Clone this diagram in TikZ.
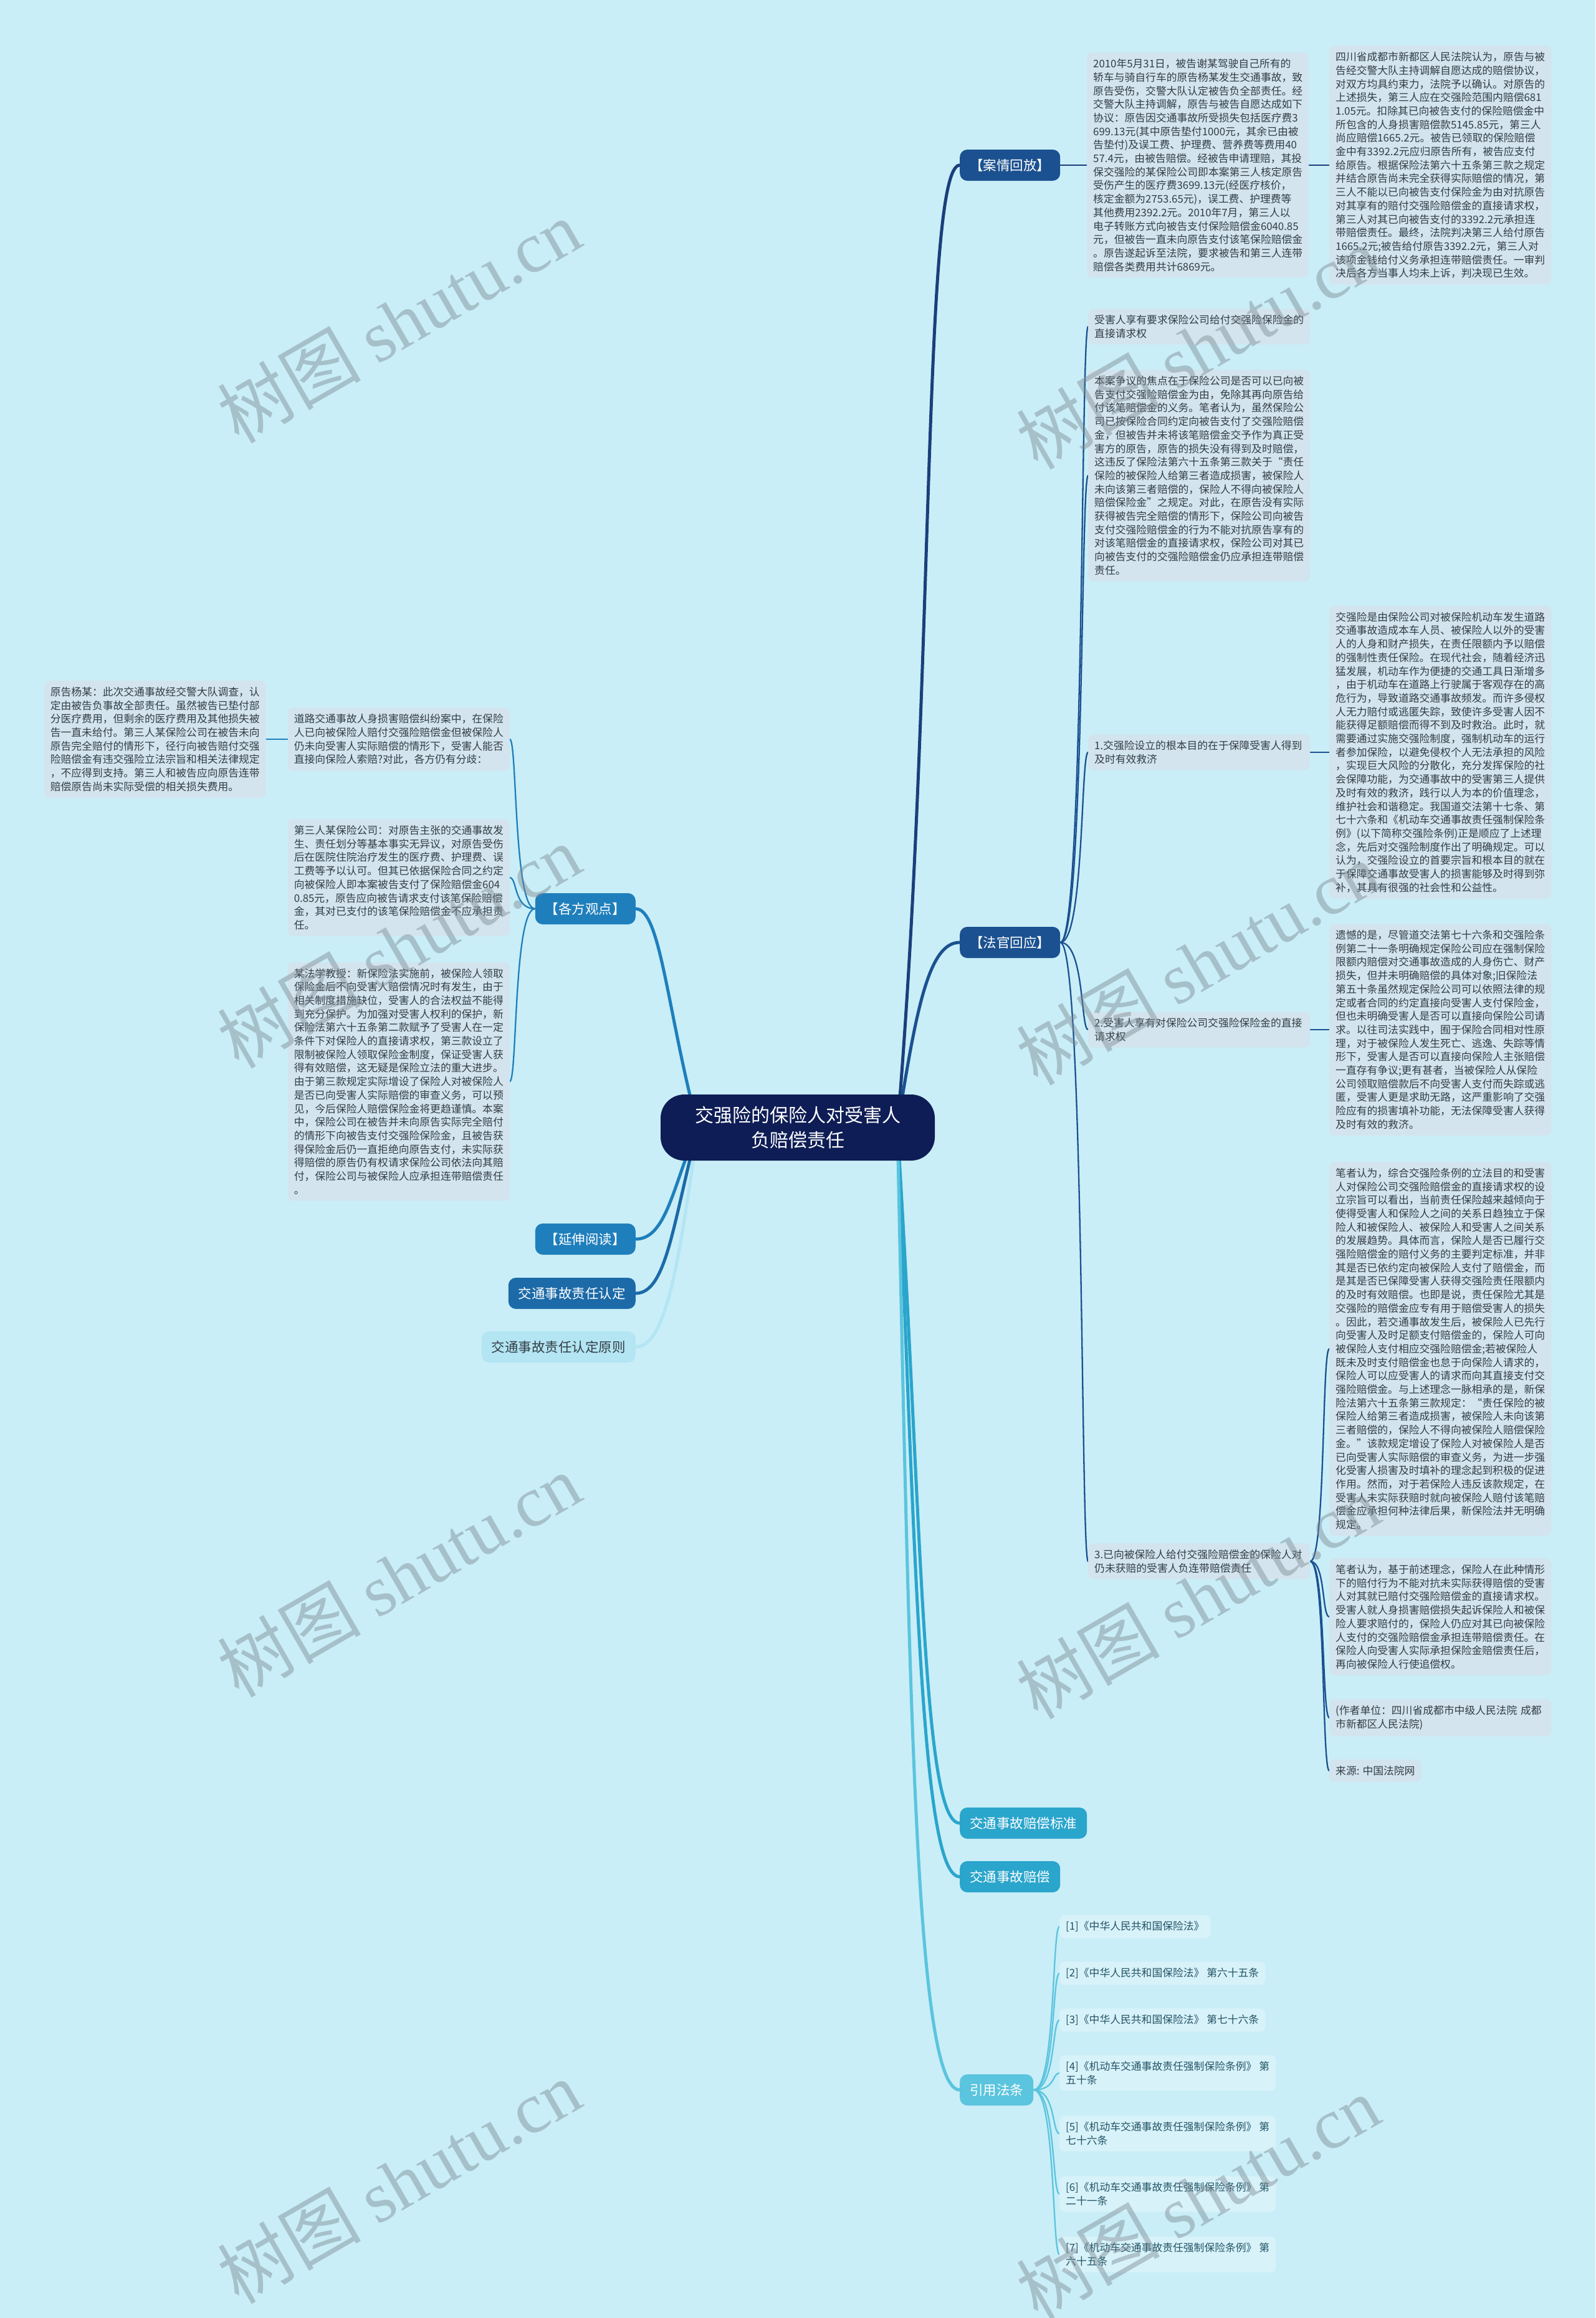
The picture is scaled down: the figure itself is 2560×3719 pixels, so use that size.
\documentclass[tikz,border=0pt]{standalone}
\usepackage{fontspec}
\setmainfont{Noto Sans CJK SC}
\newfontfamily\wmlat{Liberation Serif}
\usetikzlibrary{calc}
\pgfdeclarelayer{back}
\pgfdeclarelayer{edges}
\pgfsetlayers{back,edges,main}

\definecolor{cBg}{HTML}{C9EEF7}
\definecolor{cRoot}{HTML}{0E1D55}
\definecolor{cDark}{HTML}{1B5190}
\definecolor{cMid}{HTML}{1F7FBC}
\definecolor{cMid2}{HTML}{1C6AA8}
\definecolor{cPale}{HTML}{B3E5F3}
\definecolor{cTeal}{HTML}{2AA5CC}
\definecolor{cLight}{HTML}{5BC4DE}
\definecolor{cBox}{HTML}{D3E4EE}
\definecolor{cLaw}{HTML}{D8F2F9}
\definecolor{cTxt}{HTML}{333D45}
\definecolor{cLawTxt}{HTML}{235466}
\definecolor{cLnA}{HTML}{1B3F7C}
\definecolor{cWm}{HTML}{7D8A93}

\tikzset{
  rootnode/.style={rectangle, rounded corners=38pt, fill=cRoot, text=white, align=center,
    font=\fontsize{30}{40}\selectfont, minimum width=440pt, minimum height=106pt},
  lone/.style={rectangle, rounded corners=12pt, minimum height=50pt, inner xsep=16pt,
    font=\fontsize{21.5}{26}\selectfont, text=white},
  para/.style={rectangle, rounded corners=8pt, fill=cBox, text=cTxt, inner xsep=10pt,
    inner ysep=10pt, align=left, text width=336pt, font=\fontsize{16.8}{21.7}\selectfont},
  tagbox/.style={rectangle, rounded corners=8pt, fill=cBox, text=cTxt, inner xsep=10pt,
    inner ysep=10pt, align=left, font=\fontsize{16.8}{21.7}\selectfont},
  lawbox/.style={tagbox, fill=cLaw, text=cLawTxt},
  brline/.style={line width=5pt, line cap=round},
  subline/.style={line width=2.3pt, line cap=round},
  wmark/.style={rotate=30, text=cWm, opacity=0.45, font=\fontsize{115}{115}\selectfont}
}
\newcommand\mmR[3][]{\draw[subline,#1] let \p1=(#2.east), \p2=(#3.west) in (\p1) .. controls (\x2-6pt,\y1) and (\x2-12pt,\y2) .. (\p2);}
\newcommand\mmL[3][]{\draw[subline,#1] let \p1=(#2.west), \p2=(#3.east) in (\p1) .. controls (\x2+6pt,\y1) and (\x2+12pt,\y2) .. (\p2);}

\begin{document}
\begin{tikzpicture}[x=1pt,y=-1pt]
\useasboundingbox (0,0) rectangle (2560,3719);
\begin{pgfonlayer}{back}
\fill[cBg] (0,0) rectangle (2560,3719);
\end{pgfonlayer}

% root
\node[rootnode] (root) at (1280,1809) {交强险的保险人对受害人\\负赔偿责任};
\coordinate (rs) at (1440,1809);
\coordinate (ls) at (1120,1809);

% right level 1
\node[lone, fill=cDark, anchor=west] (anq) at (1540,265) {【案情回放】};
\node[lone, fill=cDark, anchor=west] (fg) at (1540,1512) {【法官回应】};
\node[lone, fill=cTeal, anchor=west] (bzbz) at (1540,2925) {交通事故赔偿标准};
\node[lone, fill=cTeal, anchor=west] (bz) at (1540,3011) {交通事故赔偿};
\node[lone, fill=cLight, anchor=west] (yy) at (1540,3353) {引用法条};

% left level 1
\node[lone, fill=cMid, anchor=east] (gf) at (1020,1458) {【各方观点】};
\node[lone, fill=cMid, anchor=east] (yc) at (1020,1988) {【延伸阅读】};
\node[lone, fill=cMid2, anchor=east] (rd) at (1020,2075) {交通事故责任认定};
\node[lone, fill=cPale, text=cTxt, anchor=east] (yz) at (1020,2161) {交通事故责任认定原则};

% case
\node[para, anchor=west] (caseA) at (1744,265) {2010年5月31日，被告谢某驾驶自己所有的\\
轿车与骑自行车的原告杨某发生交通事故，致\\
原告受伤，交警大队认定被告负全部责任。经\\
交警大队主持调解，原告与被告自愿达成如下\\
协议：原告因交通事故所受损失包括医疗费3\\
699.13元(其中原告垫付1000元，其余已由被\\
告垫付)及误工费、护理费、营养费等费用40\\
57.4元，由被告赔偿。经被告申请理赔，其投\\
保交强险的某保险公司即本案第三人核定原告\\
受伤产生的医疗费3699.13元(经医疗核价，\\
核定金额为2753.65元)，误工费、护理费等\\
其他费用2392.2元。2010年7月，第三人以\\
电子转账方式向被告支付保险赔偿金6040.85\\
元，但被告一直未向原告支付该笔保险赔偿金\\
。原告遂起诉至法院，要求被告和第三人连带\\
赔偿各类费用共计6869元。};
\node[para, anchor=west] (caseB) at (2133,265) {四川省成都市新都区人民法院认为，原告与被\\
告经交警大队主持调解自愿达成的赔偿协议，\\
对双方均具约束力，法院予以确认。对原告的\\
上述损失，第三人应在交强险范围内赔偿681\\
1.05元。扣除其已向被告支付的保险赔偿金中\\
所包含的人身损害赔偿款5145.85元，第三人\\
尚应赔偿1665.2元。被告已领取的保险赔偿\\
金中有3392.2元应归原告所有，被告应支付\\
给原告。根据保险法第六十五条第三款之规定\\
并结合原告尚未完全获得实际赔偿的情况，第\\
三人不能以已向被告支付保险金为由对抗原告\\
对其享有的赔付交强险赔偿金的直接请求权，\\
第三人对其已向被告支付的3392.2元承担连\\
带赔偿责任。最终，法院判决第三人给付原告\\
1665.2元;被告给付原告3392.2元，第三人对\\
该项金钱给付义务承担连带赔偿责任。一审判\\
决后各方当事人均未上诉，判决现已生效。};

% judge response
\node[para, anchor=west] (j1) at (1746,524) {受害人享有要求保险公司给付交强险保险金的\\直接请求权};
\node[para, anchor=west] (j2) at (1746,763) {本案争议的焦点在于保险公司是否可以已向被\\
告支付交强险赔偿金为由，免除其再向原告给\\
付该笔赔偿金的义务。笔者认为，虽然保险公\\
司已按保险合同约定向被告支付了交强险赔偿\\
金，但被告并未将该笔赔偿金交予作为真正受\\
害方的原告，原告的损失没有得到及时赔偿，\\
这违反了保险法第六十五条第三款关于“责任\\
保险的被保险人给第三者造成损害，被保险人\\
未向该第三者赔偿的，保险人不得向被保险人\\
赔偿保险金”之规定。对此，在原告没有实际\\
获得被告完全赔偿的情形下，保险公司向被告\\
支付交强险赔偿金的行为不能对抗原告享有的\\
对该笔赔偿金的直接请求权，保险公司对其已\\
向被告支付的交强险赔偿金仍应承担连带赔偿\\
责任。};
\node[para, anchor=west] (p1) at (1746,1207) {1.交强险设立的根本目的在于保障受害人得到\\及时有效救济};
\node[para, anchor=west] (p1a) at (2133,1207) {交强险是由保险公司对被保险机动车发生道路\\
交通事故造成本车人员、被保险人以外的受害\\
人的人身和财产损失，在责任限额内予以赔偿\\
的强制性责任保险。在现代社会，随着经济迅\\
猛发展，机动车作为便捷的交通工具日渐增多\\
，由于机动车在道路上行驶属于客观存在的高\\
危行为，导致道路交通事故频发。而许多侵权\\
人无力赔付或逃匿失踪，致使许多受害人因不\\
能获得足额赔偿而得不到及时救治。此时，就\\
需要通过实施交强险制度，强制机动车的运行\\
者参加保险，以避免侵权个人无法承担的风险\\
，实现巨大风险的分散化，充分发挥保险的社\\
会保障功能，为交通事故中的受害第三人提供\\
及时有效的救济，践行以人为本的价值理念，\\
维护社会和谐稳定。我国道交法第十七条、第\\
七十六条和《机动车交通事故责任强制保险条\\
例》(以下简称交强险条例)正是顺应了上述理\\
念，先后对交强险制度作出了明确规定。可以\\
认为，交强险设立的首要宗旨和根本目的就在\\
于保障交通事故受害人的损害能够及时得到弥\\
补，其具有很强的社会性和公益性。};
\node[para, anchor=west] (p2) at (1746,1652) {2.受害人享有对保险公司交强险保险金的直接\\请求权};
\node[para, anchor=west] (p2a) at (2133,1652) {遗憾的是，尽管道交法第七十六条和交强险条\\
例第二十一条明确规定保险公司应在强制保险\\
限额内赔偿对交通事故造成的人身伤亡、财产\\
损失，但并未明确赔偿的具体对象;旧保险法\\
第五十条虽然规定保险公司可以依照法律的规\\
定或者合同的约定直接向受害人支付保险金，\\
但也未明确受害人是否可以直接向保险公司请\\
求。以往司法实践中，囿于保险合同相对性原\\
理，对于被保险人发生死亡、逃逸、失踪等情\\
形下，受害人是否可以直接向保险人主张赔偿\\
一直存有争议;更有甚者，当被保险人从保险\\
公司领取赔偿款后不向受害人支付而失踪或逃\\
匿，受害人更是求助无路，这严重影响了交强\\
险应有的损害填补功能，无法保障受害人获得\\
及时有效的救济。};
\node[para, anchor=west] (p3) at (1746,2505) {3.已向被保险人给付交强险赔偿金的保险人对\\仍未获赔的受害人负连带赔偿责任};
\node[para, anchor=west] (p3a) at (2133,2164) {笔者认为，综合交强险条例的立法目的和受害\\
人对保险公司交强险赔偿金的直接请求权的设\\
立宗旨可以看出，当前责任保险越来越倾向于\\
使得受害人和保险人之间的关系日趋独立于保\\
险人和被保险人、被保险人和受害人之间关系\\
的发展趋势。具体而言，保险人是否已履行交\\
强险赔偿金的赔付义务的主要判定标准，并非\\
其是否已依约定向被保险人支付了赔偿金，而\\
是其是否已保障受害人获得交强险责任限额内\\
的及时有效赔偿。也即是说，责任保险尤其是\\
交强险的赔偿金应专有用于赔偿受害人的损失\\
。因此，若交通事故发生后，被保险人已先行\\
向受害人及时足额支付赔偿金的，保险人可向\\
被保险人支付相应交强险赔偿金;若被保险人\\
既未及时支付赔偿金也怠于向保险人请求的，\\
保险人可以应受害人的请求而向其直接支付交\\
强险赔偿金。与上述理念一脉相承的是，新保\\
险法第六十五条第三款规定：“责任保险的被\\
保险人给第三者造成损害，被保险人未向该第\\
三者赔偿的，保险人不得向被保险人赔偿保险\\
金。”该款规定增设了保险人对被保险人是否\\
已向受害人实际赔偿的审查义务，为进一步强\\
化受害人损害及时填补的理念起到积极的促进\\
作用。然而，对于若保险人违反该款规定，在\\
受害人未实际获赔时就向被保险人赔付该笔赔\\
偿金应承担何种法律后果，新保险法并无明确\\
规定。};
\node[para, anchor=west] (p3b) at (2133,2594) {笔者认为，基于前述理念，保险人在此种情形\\
下的赔付行为不能对抗未实际获得赔偿的受害\\
人对其就已赔付交强险赔偿金的直接请求权。\\
受害人就人身损害赔偿损失起诉保险人和被保\\
险人要求赔付的，保险人仍应对其已向被保险\\
人支付的交强险赔偿金承担连带赔偿责任。在\\
保险人向受害人实际承担保险金赔偿责任后，\\
再向被保险人行使追偿权。};
\node[para, anchor=west] (p3c) at (2133,2756) {(作者单位：四川省成都市中级人民法院 成都\\市新都区人民法院)};
\node[tagbox, anchor=west] (p3d) at (2133,2841) {来源: 中国法院网};

% laws
\node[lawbox, anchor=west] (law1) at (1700,3091) {[1]《中华人民共和国保险法》};
\node[lawbox, anchor=west] (law2) at (1700,3166) {[2]《中华人民共和国保险法》 第六十五条};
\node[lawbox, anchor=west] (law3) at (1700,3241) {[3]《中华人民共和国保险法》 第七十六条};
\node[lawbox, anchor=west] (law4) at (1700,3326) {[4]《机动车交通事故责任强制保险条例》 第\\五十条};
\node[lawbox, anchor=west] (law5) at (1700,3423) {[5]《机动车交通事故责任强制保险条例》 第\\七十六条};
\node[lawbox, anchor=west] (law6) at (1700,3520) {[6]《机动车交通事故责任强制保险条例》 第\\二十一条};
\node[lawbox, anchor=west] (law7) at (1700,3617) {[7]《机动车交通事故责任强制保险条例》 第\\六十五条};

% left side
\node[para, anchor=east] (g1) at (818,1186) {道路交通事故人身损害赔偿纠纷案中，在保险\\
人已向被保险人赔付交强险赔偿金但被保险人\\
仍未向受害人实际赔偿的情形下，受害人能否\\
直接向保险人索赔?对此，各方仍有分歧：};
\node[para, anchor=east] (g0) at (427,1186) {原告杨某：此次交通事故经交警大队调查，认\\
定由被告负事故全部责任。虽然被告已垫付部\\
分医疗费用，但剩余的医疗费用及其他损失被\\
告一直未给付。第三人某保险公司在被告未向\\
原告完全赔付的情形下，径行向被告赔付交强\\
险赔偿金有违交强险立法宗旨和相关法律规定\\
，不应得到支持。第三人和被告应向原告连带\\
赔偿原告尚未实际受偿的相关损失费用。};
\node[para, anchor=east] (g2) at (818,1408) {第三人某保险公司：对原告主张的交通事故发\\
生、责任划分等基本事实无异议，对原告受伤\\
后在医院住院治疗发生的医疗费、护理费、误\\
工费等予以认可。但其已依据保险合同之约定\\
向被保险人即本案被告支付了保险赔偿金604\\
0.85元，原告应向被告请求支付该笔保险赔偿\\
金，其对已支付的该笔保险赔偿金不应承担责\\
任。};
\node[para, anchor=east] (g3) at (818,1735) {某法学教授：新保险法实施前，被保险人领取\\
保险金后不向受害人赔偿情况时有发生，由于\\
相关制度措施缺位，受害人的合法权益不能得\\
到充分保护。为加强对受害人权利的保护，新\\
保险法第六十五条第二款赋予了受害人在一定\\
条件下对保险人的直接请求权，第三款设立了\\
限制被保险人领取保险金制度，保证受害人获\\
得有效赔偿，这无疑是保险立法的重大进步。\\
由于第三款规定实际增设了保险人对被保险人\\
是否已向受害人实际赔偿的审查义务，可以预\\
见，今后保险人赔偿保险金将更趋谨慎。本案\\
中，保险公司在被告并未向原告实际完全赔付\\
的情形下向被告支付交强险保险金，且被告获\\
得保险金后仍一直拒绝向原告支付，未实际获\\
得赔偿的原告仍有权请求保险公司依法向其赔\\
付，保险公司与被保险人应承担连带赔偿责任\\
。};

% connectors
\begin{pgfonlayer}{edges}
\draw[brline, cLnA] (rs) .. controls (1500,1100) and (1480,265) .. (anq.west);
\draw[brline, cDark] (rs) .. controls (1470,1620) and (1490,1512) .. (fg.west);
\draw[brline, cTeal] (rs) .. controls (1480,2450) and (1480,2925) .. (bzbz.west);
\draw[brline, cTeal] (rs) .. controls (1470,2550) and (1480,3011) .. (bz.west);
\draw[brline, cLight] (rs) .. controls (1460,2750) and (1470,3353) .. (yy.west);
\draw[brline, cMid] (ls) .. controls (1070,1620) and (1060,1458) .. (gf.east);
\draw[brline, cMid] (ls) .. controls (1080,1900) and (1070,1988) .. (yc.east);
\draw[brline, cMid2] (ls) .. controls (1080,1960) and (1070,2075) .. (rd.east);
\draw[brline, cPale] (ls) .. controls (1090,2020) and (1070,2161) .. (yz.east);

\mmR[cLnA]{anq}{caseA}
\mmR[cLnA]{caseA}{caseB}
\mmR[cDark]{fg}{j1}
\mmR[cDark]{fg}{j2}
\mmR[cDark]{fg}{p1}
\mmR[cDark]{fg}{p2}
\mmR[cDark]{fg}{p3}
\mmR[cDark]{p1}{p1a}
\mmR[cDark]{p2}{p2a}
\mmR[cDark]{p3}{p3a}
\mmR[cDark]{p3}{p3b}
\mmR[cDark]{p3}{p3c}
\mmR[cDark]{p3}{p3d}
\foreach \k in {1,...,7} {\mmR[cLight]{yy}{law\k}}
\mmL[cMid]{gf}{g1}
\mmL[cMid]{gf}{g2}
\mmL[cMid]{gf}{g3}
\mmL[cMid]{g1}{g0}
\end{pgfonlayer}

% watermarks
\foreach \wx/\wy [count=\i] in {640/515, 1922/557, 640/1518, 1922/1545, 640/2527, 1922/2562, 640/3500, 1922/3525} {
  \node[wmark] (wm\i) at (\wx,\wy) {树图 {\wmlat shutu.cn}};
}
\end{tikzpicture}
\end{document}
